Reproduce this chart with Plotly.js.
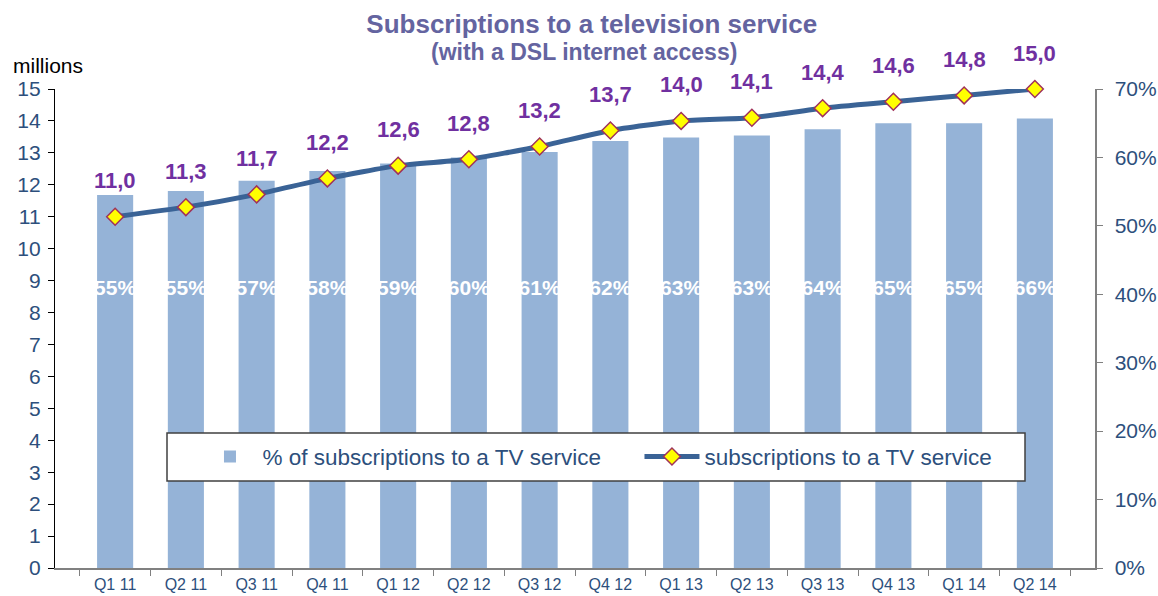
<!DOCTYPE html>
<html>
<head>
<meta charset="utf-8">
<script src="https://cdn.plot.ly/plotly-3.0.1.min.js"></script>
<style>
  html, body { margin: 0; padding: 0; background: #fff; }
  #chart { width: 1158px; height: 596px; }
</style>
</head>
<body>
<div id="chart"></div>
<script>
const quarters = ['Q1 11', 'Q2 11', 'Q3 11', 'Q4 11', 'Q1 12', 'Q2 12', 'Q3 12',
                  'Q4 12', 'Q1 13', 'Q2 13', 'Q3 13', 'Q4 13', 'Q1 14', 'Q2 14'];
const share_pct = [54.5, 55.1, 56.6, 58.0, 59.1, 60.0, 60.8, 62.4, 62.9, 63.2, 64.1, 65.0, 65.0, 65.7];
const share_labels = ['55%', '55%', '57%', '58%', '59%', '60%', '61%', '62%', '63%', '63%', '64%', '65%', '65%', '66%'];
const subs_millions = [11.0, 11.3, 11.7, 12.2, 12.6, 12.8, 13.2, 13.7, 14.0, 14.1, 14.4, 14.6, 14.8, 15.0];

const blue_text = '#2D4F7C';
const font_family = 'Liberation Sans, Arial, sans-serif';

const build_chart = () => {
    const chart = document.querySelector('#chart');

    const bars = {
        x: quarters,
        y: share_pct,
        type: 'bar',
        name: '% of subscriptions to a TV service',
        marker: { color: '#95B3D7' },
        yaxis: 'y',
        hoverinfo: 'skip'
    };

    // percentage labels sit at a fixed height inside the bars
    const bar_labels = {
        x: quarters,
        y: quarters.map(() => 40.6),
        text: share_labels,
        mode: 'text',
        type: 'scatter',
        textfont: { family: font_family, size: 21, color: '#ffffff', weight: 'bold' },
        showlegend: false,
        yaxis: 'y',
        hoverinfo: 'skip'
    };

    const line = {
        x: quarters,
        y: subs_millions,
        type: 'scatter',
        mode: 'lines+markers',
        name: 'subscriptions to a TV service',
        line: { color: '#3A6396', width: 5, shape: 'spline', smoothing: 0.5 },
        marker: { symbol: 'diamond', size: 13, color: '#FFFF00', line: { color: '#A0325A', width: 1.5 } },
        cliponaxis: false,
        yaxis: 'y2'
    };

    const value_labels = quarters.map((q, i) => ({
        x: q,
        y: subs_millions[i],
        yref: 'y2',
        text: subs_millions[i].toFixed(1).replace('.', ','),
        showarrow: false,
        yshift: 36,
        font: { family: font_family, size: 22, color: '#7030A0', weight: 'bold' }
    }));

    const layout = {
        width: 1158,
        height: 596,
        margin: { l: 55, r: 63, t: 89, b: 28, autoexpand: false },
        paper_bgcolor: '#ffffff',
        plot_bgcolor: '#ffffff',
        font: { family: font_family, color: blue_text },
        title: {
            text: '<b>Subscriptions to a television service</b>',
            xref: 'container', yref: 'container',
            x: 0.511, xanchor: 'center', y: 0.96, yanchor: 'middle',
            font: { size: 26, color: '#6464A0' }
        },
        bargap: 0.49,
        showlegend: true,
        legend: {
            orientation: 'h',
            x: 0.137, xanchor: 'left',
            y: 0.232, yanchor: 'middle',
            bgcolor: 'rgba(0,0,0,0)',
            borderwidth: 0,
            font: { size: 22.5, color: blue_text },
            entrywidth: 372,
            itemwidth: 55
        },
        shapes: [{
            type: 'rect', xref: 'paper', yref: 'paper', layer: 'above',
            x0: (167 - 55) / 1040, x1: (1025 - 55) / 1040,
            y0: (568 - 481) / 479, y1: (568 - 433) / 479,
            fillcolor: '#ffffff',
            line: { color: '#404040', width: 1.5 }
        }],
        xaxis: {
            type: 'category',
            showline: true,
            linecolor: '#808080',
            linewidth: 1.5,
            ticks: 'outside',
            tickson: 'boundaries',
            ticklen: 6,
            tickcolor: '#808080',
            ticklabelstandoff: 1,
            tickfont: { size: 16, color: blue_text },
            showgrid: false,
            zeroline: false
        },
        yaxis: {
            side: 'right',
            range: [0, 70],
            dtick: 10,
            ticksuffix: '%',
            showline: true,
            linecolor: '#808080',
            linewidth: 1.5,
            ticks: 'outside',
            ticklen: 6,
            tickcolor: '#808080',
            ticklabelstandoff: 8,
            tickfont: { size: 21, color: blue_text },
            showgrid: false,
            zeroline: false
        },
        yaxis2: {
            overlaying: 'y',
            side: 'left',
            range: [0, 15],
            dtick: 1,
            showline: true,
            linecolor: '#000000',
            linewidth: 1.2,
            ticks: 'outside',
            ticklen: 6,
            tickcolor: '#000000',
            ticklabelstandoff: 3,
            tickfont: { size: 21, color: blue_text },
            showgrid: false,
            zeroline: false
        },
        annotations: [
            {
                text: '<b>(with a DSL internet access)</b>', xref: 'paper', yref: 'paper',
                x: (584 - 55) / 1040, y: (568 - 52) / 479, xanchor: 'center', yanchor: 'middle',
                showarrow: false, font: { size: 23, color: '#6464A0' }
            },
            {
                text: 'millions', xref: 'paper', yref: 'paper',
                x: (11 - 55) / 1040, y: (568 - 66) / 479, xanchor: 'left', yanchor: 'middle',
                showarrow: false, font: { size: 21, color: '#000000' }
            },
            ...value_labels
        ]
    };

    Plotly.newPlot(chart, [bars, bar_labels, line], layout, { displayModeBar: false, staticPlot: true });
};

document.addEventListener('DOMContentLoaded', build_chart);
</script>
</body>
</html>
